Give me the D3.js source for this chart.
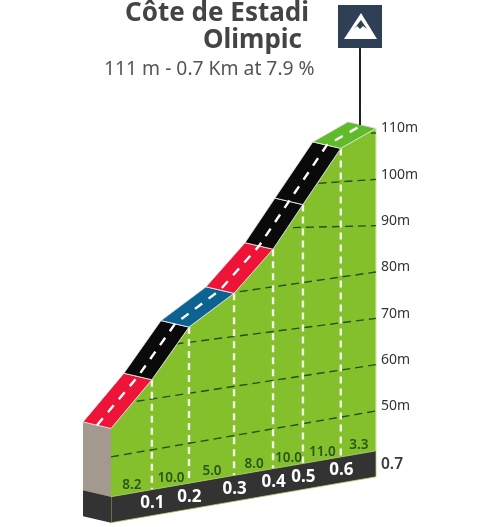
<!DOCTYPE html>
<html><head><meta charset="utf-8">
<script src="https://cdnjs.cloudflare.com/ajax/libs/d3/7.8.5/d3.min.js"></script>
<style>html,body{margin:0;padding:0;background:#fff}svg{display:block;filter:blur(0.35px)}text{font-family:"Noto Sans",sans-serif}</style>
</head><body><svg id="c" width="491" height="527"></svg>
<script>
const titleLines = ["Côte de Estadi", "Olimpic"];
const subtitle = "111 m - 0.7 Km at 7.9 %";
const kmLabels = ["0.1","0.2","0.3","0.4","0.5","0.6"];
const distance = [0,0.108,0.206,0.325,0.428,0.507,0.607,0.7];
const elevation = [55.5,63.7,73.5,79.8,86.4,95.3,107,111];
const gradients = ["8.2","10.0","5.0","8.0","10.0","11.0","3.3"];
const roadColors = ["#ee1438","#0a0a0a","#0c6392","#ee1438","#0a0a0a","#0a0a0a","#5fbb2a"];
const elevTicks = [50,60,70,80,90,100,110];
const tiltValues = [0.173,0.153,0.128,0.144,0.023,0.07,0.03];
const totalLabel = "0.7";
const baseElev = 41.4, bandDrop = 26, backX = -28, backY = -6.5;

const svg = d3.select("#c");
const x = d3.scaleLinear().domain([0,0.7]).range([111,376]);
const yE = d3.scaleLinear().domain([50,110]).range([411,133]);
const tilt = d3.scaleLinear().domain(elevTicks).range(tiltValues).clamp(true);
const P = (d,e)=>[x(d), yE(e)+tilt(e)*(376-x(d))];
const profile = distance.map((d,i)=>P(d,elevation[i]));
const base = distance.map(d=>P(d,baseElev));
const line = d3.line();
const poly = pts=>line(pts)+"Z";
const body = [...profile,[x(0.7),base[7][1]],[x(0),base[0][1]]];

svg.append("clipPath").attr("id","b").append("path").attr("d",poly(body));
svg.append("path").attr("d",poly(body)).attr("fill","#84c02c");
svg.append("line").attr("x1",x(0.7)).attr("x2",x(0.7)).attr("y1",profile[7][1]).attr("y2",base[7][1]).attr("stroke","#cfe8a8").attr("stroke-width",1.2);

// grid
const g = svg.append("g").attr("clip-path","url(#b)");
g.selectAll("line.g").data(elevTicks).join("line").attr("class","g")
 .attr("x1",x(0)).attr("x2",x(0.7)).attr("y1",e=>P(0,e)[1]).attr("y2",e=>P(0.7,e)[1])
 .attr("stroke","#24501a").attr("stroke-width",1.4).attr("stroke-dasharray","8,5");
// vertical km
svg.selectAll("line.v").data(distance.slice(1,7)).join("line").attr("class","v")
 .attr("x1",d=>x(d)).attr("x2",d=>x(d)).attr("y1",(d,i)=>profile[i+1][1]).attr("y2",d=>P(d,baseElev)[1])
 .attr("stroke","#f4f8e8").attr("stroke-width",2.4).attr("stroke-dasharray","7,5");

// side
svg.append("path").attr("d",poly([profile[0],[profile[0][0]+backX,profile[0][1]+backY],[base[0][0]+backX,base[0][1]+backY],base[0]])).attr("fill","#a3998f");
// band
const down = p=>[p[0],p[1]+bandDrop];
svg.append("path").attr("d",poly([base[0],base[7],down(base[7]),down(base[0])])).attr("fill","#333333").attr("stroke","#a9cf6a").attr("stroke-width",0.8);
svg.append("path").attr("d",poly([base[0],[base[0][0]+backX,base[0][1]+backY],[base[0][0]+backX,base[0][1]+backY+bandDrop],down(base[0])])).attr("fill","#333333");

// road
const seg = d3.range(7);
svg.selectAll("path.r").data(seg).join("path").attr("class","r")
 .attr("d",i=>poly([profile[i],profile[i+1],[profile[i+1][0]+backX,profile[i+1][1]+backY],[profile[i][0]+backX,profile[i][1]+backY]]))
 .attr("fill",i=>roadColors[i]).attr("stroke","#e6e6e6").attr("stroke-width",0.9);
svg.append("path").attr("d",line(profile.map(p=>[p[0]+backX/2,p[1]+backY/2]))).attr("fill","none")
 .attr("stroke","#fff").attr("stroke-width",2.4).attr("stroke-dasharray","9,8");

// axis
const ax = svg.append("g").attr("transform","translate(376,-5.5)")
 .call(d3.axisRight(yE).tickValues(elevTicks).tickSize(0).tickPadding(5).tickFormat(d=>d+"m"));
ax.select(".domain").remove();
ax.selectAll("text").attr("fill","#333").style("font-size","14px").style("font-family",'"Noto Sans",sans-serif');
svg.append("text").attr("x",381).attr("y",469).attr("fill","#3a3a3a").style("font-size","15.5px").style("font-weight",600).text(totalLabel);

// labels
svg.selectAll("text.km").data(kmLabels).join("text").attr("class","km")
 .attr("x",(d,i)=>x(distance[i+1])+0.5).attr("y",(d,i)=>base[i+1][1]+bandDrop/2+5.5)
 .attr("text-anchor","middle").attr("fill","#fff").style("font-size","17px").style("font-weight",700).text(d=>d);
svg.selectAll("text.gr").data(gradients).join("text").attr("class","gr")
 .attr("x",(d,i)=>(x(distance[i])+x(distance[i+1]))/2+0.5).attr("y",(d,i)=>(base[i][1]+base[i+1][1])/2-4.5)
 .attr("text-anchor","middle").attr("fill","#2b5518").style("font-size","13.5px").style("font-weight",600).text(d=>d);

// title
svg.selectAll("text.t").data(titleLines).join("text").attr("class","t")
 .attr("x",(d,i)=>i?302:309).attr("y",(d,i)=>21+27*i).attr("text-anchor","end").attr("fill","#444")
 .style("font-size","26px").style("font-weight",700).text(d=>d);
svg.append("text").attr("x",104).attr("y",75).attr("fill","#555").style("font-size","19.3px").text(subtitle);

// icon
svg.append("line").attr("x1",360).attr("x2",360).attr("y1",48).attr("y2",125).attr("stroke","#222").attr("stroke-width",2);
svg.append("rect").attr("x",338).attr("y",5).attr("width",44).attr("height",43).attr("fill","#2f4056");
svg.append("path").attr("d",line([[361,13],[377,39],[344,39]])+"Z").attr("fill","#fff");
svg.append("path").attr("d",line([[361,20],[367,29],[363,26],[360,29],[357,26],[354,29]])+"Z").attr("fill","#2f4056");
</script></body></html>
